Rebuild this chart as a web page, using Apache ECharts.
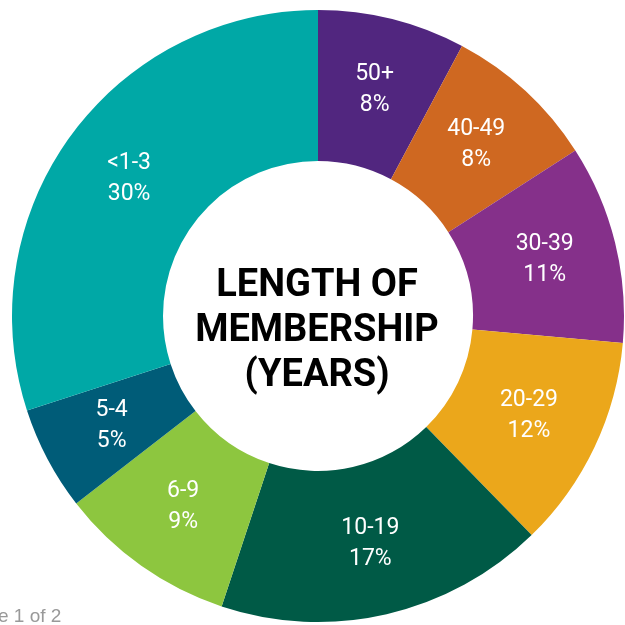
<!DOCTYPE html>
<html>
<head>
<meta charset="utf-8">
<title>Length of membership</title>
<script src="https://cdn.jsdelivr.net/npm/echarts@6/dist/echarts.min.js"></script>
<style>
  *{margin:0;padding:0;}
  body{background:#fff;}
  #chart{width:625px;height:625px;}
</style>
</head>
<body>
<div id="chart"></div>
<script>
// groups clockwise from 12 o'clock
var groups = ['50+', '40-49', '30-39', '20-29', '10-19', '6-9', '5-4', '<1-3'];
// slice shares
var shares = [7.8, 8.1, 10.5, 11.3, 17.4, 9.4, 5.5, 30.0];
// percentages printed on the slices
var pctLabels = ['8%', '8%', '11%', '12%', '17%', '9%', '5%', '30%'];
var colors = ['#51267f', '#cf6821', '#85308a', '#eba71b', '#005a46', '#8dc63f', '#005c78', '#00a8a6'];

var chart = echarts.init(document.getElementById('chart'));

var data = groups.map(function (g, i) {
  return { name: g, value: shares[i], itemStyle: { color: colors[i] } };
});

chart.setOption({
  animation: false,
  series: [{
    type: 'pie',
    center: [318, 316],
    radius: [155, 306],
    startAngle: 90,
    clockwise: true,
    avoidLabelOverlap: false,
    itemStyle: { borderWidth: 0 },
    label: {
      show: true,
      position: 'inside',
      color: '#fff',
      fontFamily: 'Roboto',
      fontSize: 23,
      lineHeight: 31,
      align: 'center',
      formatter: function (p) {
        return p.name + '\n' + pctLabels[p.dataIndex];
      }
    },
    labelLine: { show: false },
    emphasis: { disabled: true },
    data: data
  }],
  graphic: [{
    type: 'text',
    style: {
      text: 'LENGTH OF\nMEMBERSHIP\n(YEARS)',
      fontFamily: 'Roboto',
      fontWeight: 'bold',
      fontSize: 38,
      lineHeight: 45,
      fill: '#000',
      align: 'center',
      verticalAlign: 'middle',
      x: 317,
      y: 331
    }
  }, {
    type: 'text',
    style: {
      text: 'e 1 of 2',
      x: -2,
      y: 617,
      fontFamily: 'Liberation Sans',
      fontSize: 19,
      fill: '#999',
      verticalAlign: 'middle'
    }
  }]
});
</script>
</body>
</html>
